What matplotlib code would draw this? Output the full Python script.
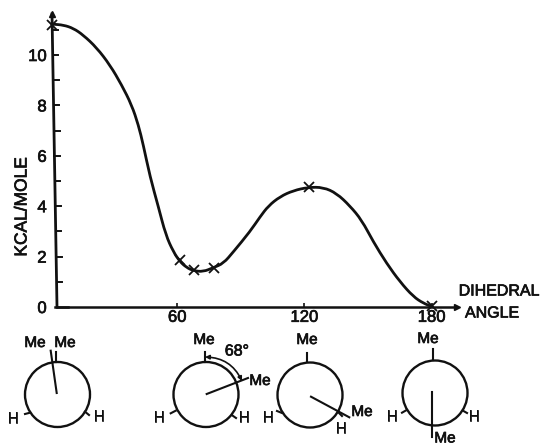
import numpy as np
import matplotlib
matplotlib.use('Agg')
from matplotlib import pyplot as plt
from matplotlib.patches import Circle, PathPatch
from matplotlib.path import Path
from matplotlib import patheffects as pe

plt.rcParams['font.family'] = ['Liberation Sans', 'DejaVu Sans']

# curve: dihedral angle (deg) and energy (kcal/mole)
angle = [0.8, 1.6, 6.3, 11, 15.7, 22, 28.3, 33.8, 38.5, 41.7, 44, 47.2, 51.1, 54.6, 58.2, 61.3, 64.4, 67.6, 72.3, 77,
         81.8, 86.5, 94.3, 99.1, 103, 108.5, 114.8, 121.8, 128.9, 135.2, 141.5, 147, 152.5, 158.8, 165.1, 171.4,
         176.1, 180.3, 180.3]
energy = [11.23, 11.22, 11.19, 11.06, 10.79, 10.29, 9.6, 8.81, 8.02, 7.22, 6.43, 5.17, 3.98, 2.86, 2.19, 1.8, 1.57,
          1.44, 1.40, 1.56, 1.73, 2.19, 2.99, 3.58, 4.01, 4.38, 4.62, 4.75, 4.75, 4.51, 4.01, 3.45, 2.59, 1.73, 1.0,
          0.41, 0.15, 0.01, 0.01]
point_angle = [0.8, 61.5, 68, 77.5, 122, 180]
point_energy = [11.2, 1.85, 1.45, 1.55, 4.76, 0.02]

x_ticks = [60, 120, 180]
y_labels = [0, 2, 4, 6, 8, 10]
y_minor = [1, 2, 3, 4, 5, 6, 7, 8, 9, 10, 11]

W, H = 540, 446
ink = '#111111'
bolder = [pe.withStroke(linewidth=0.5, foreground=ink)]
fig = plt.figure(figsize=(W / 100, H / 100), dpi=100)

# main axes, px: x = 50 + 2.12 * deg, y = 307 - 25.2 * kcal
left, right, top, bottom = 55, 457, 14, 307
ax = fig.add_axes([left / W, 1 - bottom / H, (right - left) / W, (bottom - top) / H])
ax.set_xlim((left - 50) / 2.12, (right - 50) / 2.12)
ax.set_ylim(0, (bottom - top) / 25.2)
for s in ['top', 'right', 'left']:
    ax.spines[s].set_visible(False)
ax.spines['bottom'].set_linewidth(1.8)
ax.spines['bottom'].set_color(ink)
ax.patch.set_alpha(0)

ax.set_xticks(x_ticks)
ax.set_xticklabels([str(v) for v in x_ticks], fontsize=12, color=ink, path_effects=bolder)
ax.tick_params(axis='x', direction='in', length=3, width=1.2, pad=2, color=ink)
ax.set_yticks(y_labels)
ax.set_yticklabels([str(v) for v in y_labels], fontsize=12, color=ink, path_effects=bolder)
ax.tick_params(axis='y', length=0, pad=6)


# the drawn vertical axis leans slightly: 57 px at the bottom, 52 px at the top
def lean(v):
    return (57 - 5 * v / 11.63 - 50) / 2.12


ax.plot([lean(0), lean(11.63)], [0, 11.63], color=ink, lw=2, clip_on=False, zorder=3)
for v in y_minor:
    ax.plot([lean(v), lean(v) + 2.6], [v, v], color=ink, lw=1.4, clip_on=False)
ax.plot([lean(0), lean(0) + 5], [0, 0], color=ink, lw=1.8, clip_on=False)

# quadratic path through the read points so the curve stays smooth like the pen line
pts = np.column_stack([angle, energy])
mids = (pts[:-1] + pts[1:]) / 2
verts = [pts[0]]
codes = [Path.MOVETO]
for p, m in zip(pts[1:-1], mids[1:]):
    verts += [p, m]
    codes += [Path.CURVE3, Path.CURVE3]
ax.add_patch(PathPatch(Path(verts, codes), fill=False, ec=ink, lw=2, clip_on=False, capstyle='round'))
ax.plot(point_angle, point_energy, 'x', color=ink, ms=7.5, mew=1.3, clip_on=False, zorder=4)

# arrow heads on both axes
ax.plot([(right - 50) / 2.12], [0], '>', color=ink, ms=5, clip_on=False)
ax.plot([lean(11.63)], [11.63], '^', color=ink, ms=4.5, clip_on=False)

# everything below is placed in picture pixels
over = fig.add_axes([0, 0, 1, 1])
over.set_xlim(0, W)
over.set_ylim(H, 0)
over.axis('off')


def label(x, y, s, size=11, **kw):
    over.text(x, y, s, fontsize=size, ha='center', va='center', color=ink, path_effects=bolder, **kw)


label(22, 207, 'KCAL/MOLE', size=12.5, rotation=90)
label(499, 291, 'DIHEDRAL', size=11.5)
label(492, 313, 'ANGLE', size=11.5)

circles = [(57.5, 394.5), (206, 394.5), (310, 395), (435, 393)]
for cx, cy in circles:
    over.add_patch(Circle((cx, cy), 32.5, fill=False, ec=ink, lw=1.7))

segments = [
    (56.7, 393, 50.7, 350.7), (56, 362, 56, 352), (30, 412.7, 25, 414), (85, 411.7, 89, 415),
    (206.7, 394, 248, 378), (205, 362, 205, 352), (175.7, 410.7, 170.7, 413.3), (231.7, 415, 236, 418),
    (311, 396.7, 349.3, 417.3), (307, 362, 307, 353), (282, 413, 277, 411), (338, 412, 342, 416),
    (432.3, 391.7, 432.3, 436.7), (432.7, 360, 432.7, 349), (406.7, 410, 402, 412.7), (463, 410.7, 467, 413),
]
for x0, y0, x1, y1 in segments:
    over.plot([x0, x1], [y0, y1], color=ink, lw=1.5)

over.annotate('', xy=(205, 357), xytext=(242, 381),
              arrowprops=dict(arrowstyle='<|-|>', mutation_scale=6, color=ink, lw=1.2,
                              shrinkA=0, shrinkB=0, connectionstyle='arc3,rad=0.3'))

texts = [
    (35, 343, 'Me'), (65, 343, 'Me'), (13, 419, 'H'), (99, 417, 'H'),
    (204, 340, 'Me'), (260, 381, 'Me'), (159, 418, 'H'), (244, 418, 'H'),
    (307, 340, 'Me'), (362, 412, 'Me'), (268, 418, 'H'), (341, 429, 'H'),
    (428, 339, 'Me'), (445, 438.5, 'Me'), (392, 417, 'H'), (474, 417, 'H'),
]
for x, y, s in texts:
    label(x, y, s)
label(237, 351, '68°', size=11.5)

fig.savefig('out.png', dpi=100)
